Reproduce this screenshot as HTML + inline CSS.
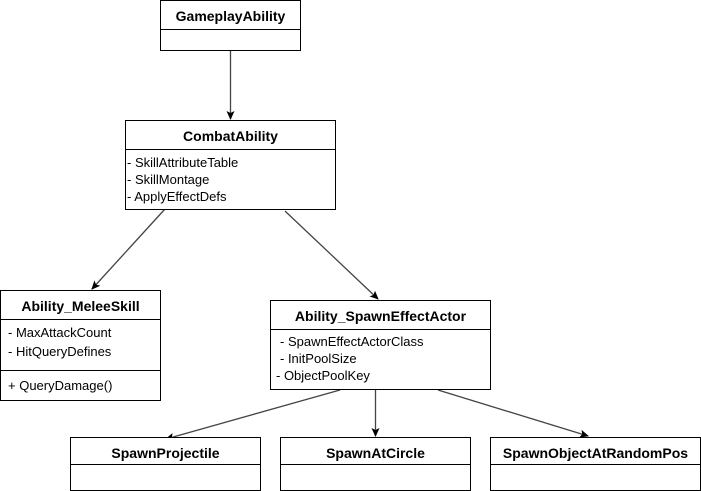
<!DOCTYPE html>
<html><head><style>
body{margin:0;background:#fff;}
svg{display:block;font-family:"Liberation Sans",Arial,sans-serif;font-size:13px;}
.b{font-weight:bold;font-size:14px;text-anchor:middle;}
rect{fill:#fff;stroke:#000;stroke-width:1;}
line.s{stroke:#000;stroke-width:1;}
line.c{stroke:#444;stroke-width:1.3;}
</style></head><body>
<svg width="701" height="491" viewBox="0 0 701 491">
<defs><marker id="a" markerWidth="10" markerHeight="10" refX="8" refY="4" orient="auto" markerUnits="userSpaceOnUse"><path d="M0,0 L9,4 L0,8 L2,4 Z" fill="#000"/></marker></defs>
<line class="c" x1="230.5" y1="50" x2="230.5" y2="119" marker-end="url(#a)"/>
<line class="c" x1="165" y1="209" x2="92" y2="289" marker-end="url(#a)"/>
<line class="c" x1="285" y1="211" x2="378" y2="299" marker-end="url(#a)"/>
<line class="c" x1="340" y1="390" x2="166" y2="439" marker-end="url(#a)"/>
<line class="c" x1="375.5" y1="390" x2="375.5" y2="436" marker-end="url(#a)"/>
<line class="c" x1="438" y1="390" x2="588" y2="436" marker-end="url(#a)"/>

<rect x="160.5" y="0.5" width="140" height="50"/><line class="s" x1="160" y1="29.5" x2="301" y2="29.5"/>
<text class="b" x="230.5" y="21">GameplayAbility</text>

<rect x="125.5" y="120.5" width="210" height="89"/><line class="s" x1="125" y1="149.5" x2="336" y2="149.5"/>
<text class="b" x="230.5" y="141">CombatAbility</text>
<text x="127" y="167">- SkillAttributeTable</text>
<text x="127" y="184">- SkillMontage</text>
<text x="127" y="201">- ApplyEffectDefs</text>

<rect x="0.5" y="290.5" width="160" height="110"/><line class="s" x1="0" y1="319.5" x2="161" y2="319.5"/><line class="s" x1="0" y1="370.5" x2="161" y2="370.5"/>
<text class="b" x="80.5" y="311">Ability_MeleeSkill</text>
<text x="8" y="337">- MaxAttackCount</text>
<text x="8" y="356">- HitQueryDefines</text>
<text x="8" y="390">+ QueryDamage()</text>

<rect x="270.5" y="300.5" width="220" height="89"/><line class="s" x1="270" y1="329.5" x2="491" y2="329.5"/>
<text class="b" x="380.5" y="321">Ability_SpawnEffectActor</text>
<text x="280" y="346">- SpawnEffectActorClass</text>
<text x="280" y="363">- InitPoolSize</text>
<text x="276" y="380">- ObjectPoolKey</text>

<rect x="70.5" y="437.5" width="190" height="53"/><line class="s" x1="70" y1="464.5" x2="261" y2="464.5"/>
<text class="b" x="165.5" y="458">SpawnProjectile</text>
<rect x="280.5" y="437.5" width="190" height="53"/><line class="s" x1="280" y1="464.5" x2="471" y2="464.5"/>
<text class="b" x="375.5" y="458">SpawnAtCircle</text>
<rect x="490.5" y="437.5" width="210" height="53"/><line class="s" x1="490" y1="464.5" x2="701" y2="464.5"/>
<text class="b" x="595.5" y="458">SpawnObjectAtRandomPos</text>
</svg>
</body></html>
